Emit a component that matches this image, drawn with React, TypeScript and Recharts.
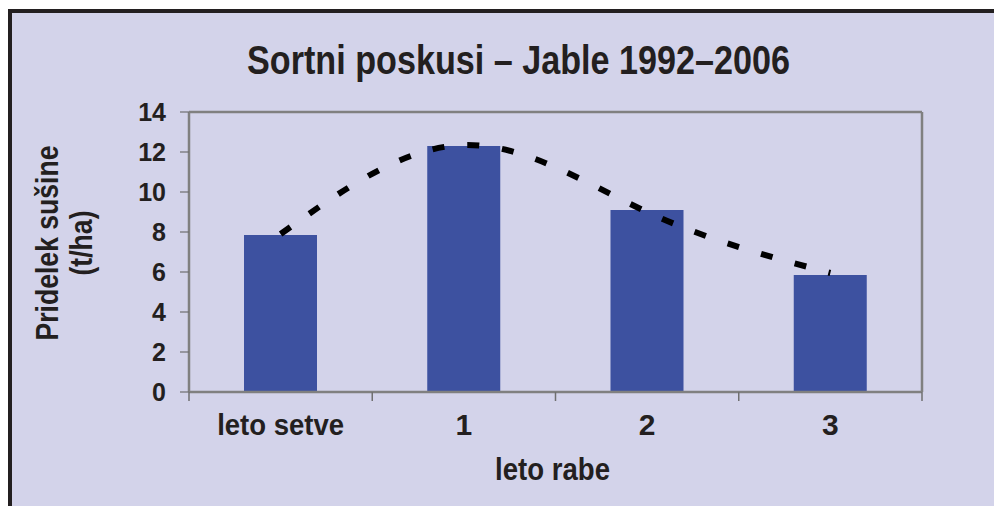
import { Bar, ComposedChart, Line, XAxis, YAxis } from "recharts";

const categories = ["leto setve", "1", "2", "3"];
const yieldValues = [7.85, 12.3, 9.1, 5.85]; // pridelek sušine, t/ha
const trendValues = [7.9, 12.35, 9.0, 5.95];
const yTicks = [0, 2, 4, 6, 8, 10, 12, 14];

const data = categories.map((cat, i) => ({
  cat,
  yield: yieldValues[i],
  trend: trendValues[i],
}));

const BG = "#d3d3ea";
const BAR = "#3d51a0";
const GRID = "#808080";
const TICK = "#6f6f6f";
const INK = "#231f20";
const FONT = '"Liberation Sans", Arial, sans-serif';

// category label plus Excel-style tick marks on the category boundaries
function CatTick(props: any) {
  const { x, y, payload, index, visibleTicksCount, width } = props;
  const half =
    typeof payload.offset === "number" && payload.offset > 0
      ? payload.offset
      : width / categories.length / 2;
  const isWord = String(payload.value).length > 2;
  const last = index === visibleTicksCount - 1;
  return (
    <g>
      <line x1={x - half} x2={x - half} y1={y} y2={y + 9} stroke={TICK} strokeWidth={1.5} />
      {last && (
        <line x1={x + half} x2={x + half} y1={y} y2={y + 9} stroke={TICK} strokeWidth={1.5} />
      )}
      <text
        x={x}
        y={y + 43}
        textAnchor="middle"
        fontFamily={FONT}
        fontWeight="bold"
        fontSize={30}
        fill={INK}
        textLength={isWord ? 127 : undefined}
        lengthAdjust="spacingAndGlyphs"
      >
        {payload.value}
      </text>
    </g>
  );
}

function YLabel({ viewBox }: any) {
  const cy = viewBox.y + viewBox.height / 2 - 9;
  return (
    <g fontFamily={FONT} fontWeight="bold" fontSize={31} fill={INK}>
      <text
        x={58}
        y={cy}
        textAnchor="middle"
        transform={`rotate(-90 58 ${cy})`}
        textLength={195}
        lengthAdjust="spacingAndGlyphs"
      >
        Pridelek sušine
      </text>
      <text
        x={92}
        y={cy}
        textAnchor="middle"
        transform={`rotate(-90 92 ${cy})`}
        textLength={65}
        lengthAdjust="spacingAndGlyphs"
      >
        (t/ha)
      </text>
    </g>
  );
}

function XLabel({ viewBox }: any) {
  const cx = viewBox.x + viewBox.width / 2;
  return (
    <text
      x={cx - 3}
      y={viewBox.y + 88}
      textAnchor="middle"
      fontFamily={FONT}
      fontWeight="bold"
      fontSize={31}
      fill={INK}
      textLength={115}
      lengthAdjust="spacingAndGlyphs"
    >
      leto rabe
    </text>
  );
}

export default function App() {
  return (
    <div
      style={{
        position: "absolute",
        left: 0,
        top: 0,
        width: 994,
        height: 506,
        background: "#ffffff",
        overflow: "hidden",
      }}
    >
      <div
        style={{
          position: "absolute",
          left: 8,
          top: 9,
          width: 1000,
          height: 520,
          background: BG,
          border: "4px solid " + INK,
        }}
      />
      <svg
        width={994}
        height={100}
        style={{ position: "absolute", left: 0, top: 0 }}
      >
        <text
          x={247}
          y={74}
          fontFamily={FONT}
          fontWeight="bold"
          fontSize={41}
          fill={INK}
          textLength={543}
          lengthAdjust="spacingAndGlyphs"
        >
          Sortni poskusi – Jable 1992–2006
        </text>
      </svg>
      <div style={{ position: "absolute", left: 0, top: 0 }}>
        <ComposedChart
          width={994}
          height={506}
          data={data}
          margin={{ top: 111, right: 71, bottom: 113, left: 129 }}
        >
          <XAxis
            dataKey="cat"
            height={1}
            tickSize={0}
            tickMargin={0}
            axisLine={{ stroke: GRID, strokeWidth: 2.5 }}
            tickLine={false}
            interval={0}
            tick={<CatTick />}
            label={<XLabel />}
          />
          <XAxis
            xAxisId="top"
            orientation="top"
            dataKey="cat"
            height={1}
            tick={false}
            tickLine={false}
            axisLine={{ stroke: GRID, strokeWidth: 2.5 }}
          />
          <YAxis
            width={60}
            domain={[0, 14]}
            ticks={yTicks}
            interval={0}
            tickSize={9}
            tickMargin={14}
            axisLine={{ stroke: GRID, strokeWidth: 2.5 }}
            tickLine={{ stroke: TICK, strokeWidth: 1.2 }}
            tick={{ fontFamily: FONT, fontWeight: "bold", fontSize: 25, fill: INK }}
            label={<YLabel />}
          />
          <YAxis
            yAxisId="r"
            orientation="right"
            width={1}
            domain={[0, 14]}
            tick={false}
            tickLine={false}
            axisLine={{ stroke: GRID, strokeWidth: 2.5 }}
          />
          <Bar dataKey="yield" fill={BAR} barSize={73} isAnimationActive={false} />
          <Line
            dataKey="trend"
            type="natural"
            stroke="#000000"
            strokeWidth={6}
            strokeDasharray="12 23"
            dot={false}
            activeDot={false}
            isAnimationActive={false}
          />
        </ComposedChart>
      </div>
    </div>
  );
}
